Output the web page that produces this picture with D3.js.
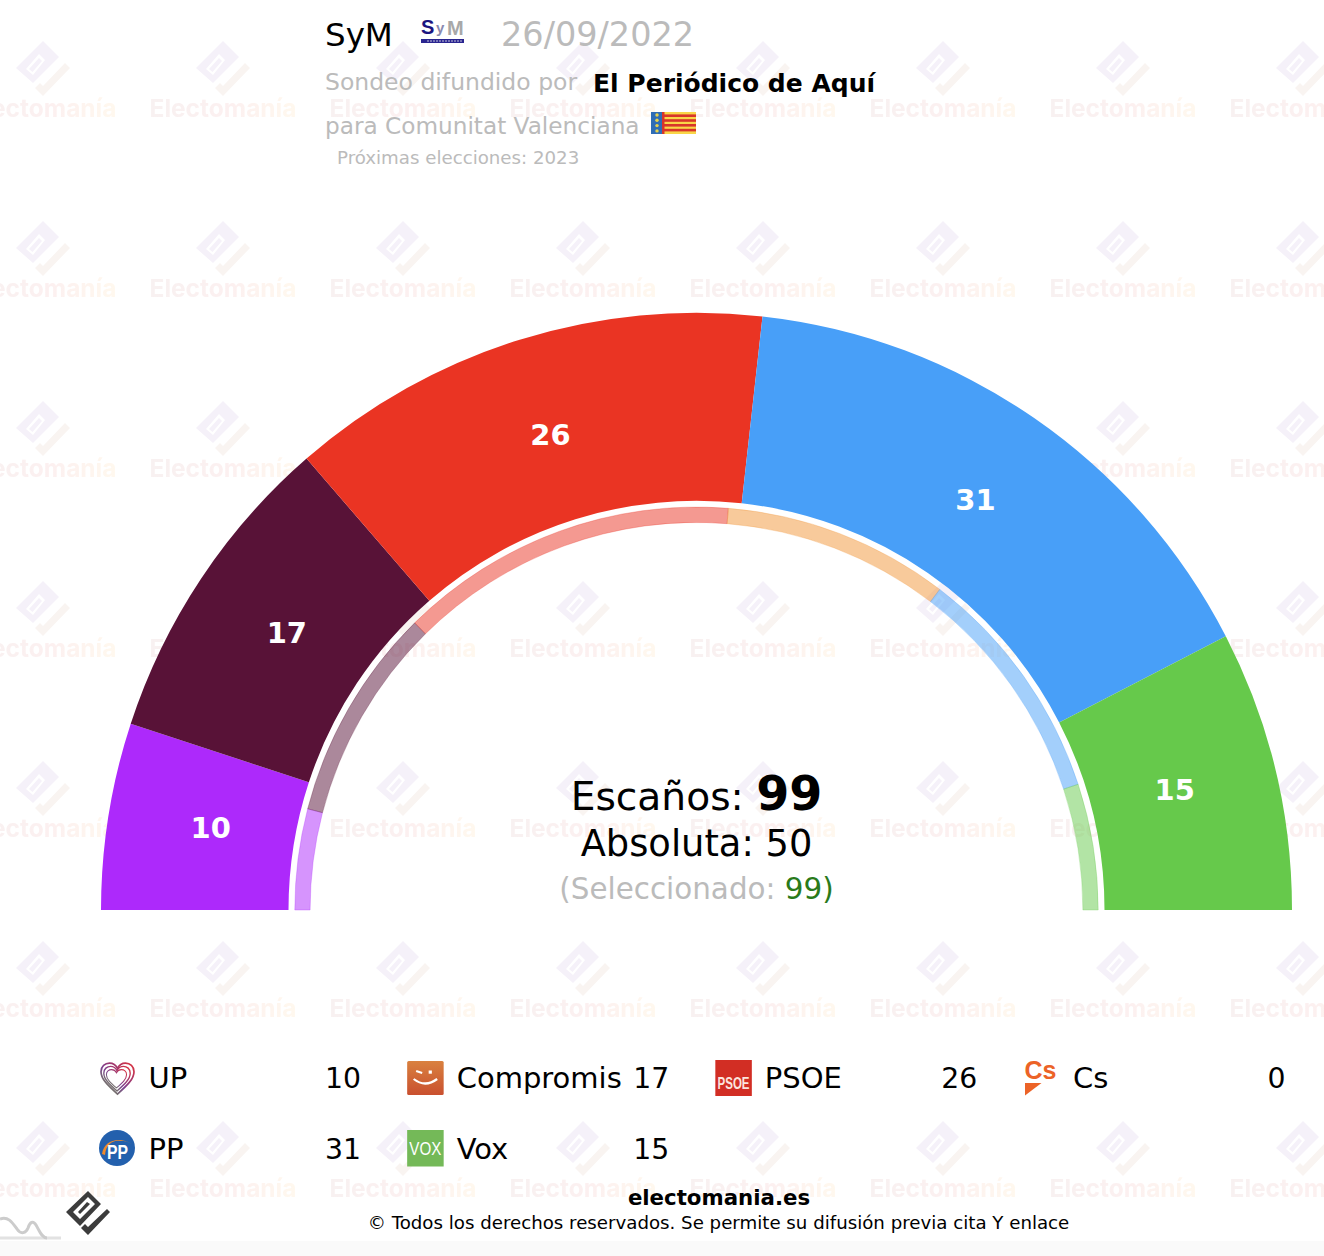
<!DOCTYPE html>
<html lang="es">
<head>
<meta charset="UTF-8">
<title>SyM 26/09/2022</title>
<script src="https://d3js.org/d3.v7.min.js"></script>
<style>
    html, body { margin: 0; padding: 0; background: #fff; }
    svg { display: block; }
    text { font-family: "DejaVu Sans", Verdana, sans-serif; }
</style>
</head>
<body>
<svg id="chart" width="1324" height="1256"></svg>
<script>
const parties = ["UP", "Compromis", "PSOE", "Cs", "PP", "Vox"];
const seats = [10, 17, 26, 0, 31, 15];
const prevSeats = [8, 17, 27, 18, 19, 10];
const colors = ["#ad29fb", "#581237", "#ea3423", "#f19537", "#489ff8", "#66c94b"];
const majority = 50;

const width = 1324, height = 1256;
const cx = 696.5, cy = 910;
const svg = d3.select("#chart");
const defs = svg.append("defs");

// watermark tile
const grad = defs.append("linearGradient").attr("id", "wmText");
grad.append("stop").attr("offset", "0").attr("stop-color", "#f8f1f1");
grad.append("stop").attr("offset", "0.55").attr("stop-color", "#fcf0f0");
grad.append("stop").attr("offset", "1").attr("stop-color", "#fff8ee");
const tile = defs.append("pattern").attr("id", "wm")
    .attr("patternUnits", "userSpaceOnUse")
    .attr("x", -47).attr("y", 0).attr("width", 180).attr("height", 180);
tile.append("path").attr("fill", "#f5f1f9").attr("fill-rule", "evenodd")
    .attr("d", "M90,41 L106,57 L80,83 L63,68 Z M73,69 L86,54 L92,60 L80,75 Z");
tile.append("path").attr("fill", "#f5f1f9")
    .attr("d", "M76,69 L86,58 L89,61 L79.5,72 Z");
tile.append("path").attr("fill", "#f9f4f1")
    .attr("d", "M112,63 L117,68 L90,96 L82,88 L87,83 L90,86 Z");
tile.append("text").attr("x", 90).attr("y", 117).attr("text-anchor", "middle")
    .attr("font-size", 24.5).attr("font-weight", "bold").attr("fill", "url(#wmText)")
    .style("font-family", "Inter, sans-serif").text("Electomanía");

svg.append("rect").attr("width", width).attr("height", height).attr("fill", "#fff");
svg.append("rect").attr("width", width).attr("height", height).attr("fill", "url(#wm)");
svg.append("rect").attr("y", 1241).attr("width", width).attr("height", 15).attr("fill", "#fafafa");

// header
const head = svg.append("g");
head.append("text").attr("x", 325).attr("y", 45.5).attr("font-size", 32.5).attr("fill", "#000").text("SyM");
head.append("text").attr("x", 501).attr("y", 45.5).attr("font-size", 33.5).attr("fill", "#bbb").text("26/09/2022");
head.append("text").attr("x", 325).attr("y", 90).attr("font-size", 23.5).attr("fill", "#bbb").text("Sondeo difundido por");
head.append("text").attr("x", 593).attr("y", 92).attr("font-size", 25).attr("font-weight", "bold").attr("fill", "#000").text("El Periódico de Aquí");
head.append("text").attr("x", 325).attr("y", 134).attr("font-size", 23.2).attr("fill", "#bbb").text("para Comunitat Valenciana");
head.append("text").attr("x", 337).attr("y", 163.5).attr("font-size", 18.2).attr("fill", "#bbb").text("Próximas elecciones: 2023");

// SyM logo
const sym = head.append("g").attr("transform", "translate(421,0)");
sym.append("text").attr("x", 0).attr("y", 33.5).attr("font-size", 20).attr("font-weight", "bold").attr("fill", "#1b1580").style("font-family", "Liberation Sans").text("S");
sym.append("text").attr("x", 15).attr("y", 33).attr("font-size", 15).attr("font-weight", "bold").attr("fill", "#8a8ab0").style("font-family", "Liberation Sans").text("y");
sym.append("text").attr("x", 26).attr("y", 35).attr("font-size", 20).attr("font-weight", "bold").attr("fill", "#a8a8a8").style("font-family", "Liberation Sans").text("M");
sym.append("rect").attr("x", 0).attr("y", 39).attr("width", 43).attr("height", 4).attr("fill", "#2a2590");
sym.append("line").attr("x1", 6).attr("x2", 42).attr("y1", 41).attr("y2", 41)
    .attr("stroke", "#c5c5dc").attr("stroke-width", 1).attr("stroke-dasharray", "2 1");

// Valencian flag
const flag = head.append("g").attr("transform", "translate(651,112)");
flag.append("rect").attr("width", 45).attr("height", 22).attr("fill", "#f9d648");
flag.selectAll("rect.bar").data(d3.range(4)).join("rect").attr("class", "bar")
    .attr("x", 0).attr("y", d => 2.4 + d * 4.8).attr("width", 45).attr("height", 2.6).attr("fill", "#d8352a");
flag.append("rect").attr("width", 11).attr("height", 22).attr("fill", "#2f6db5");
flag.append("rect").attr("x", 11).attr("width", 2.5).attr("height", 22).attr("fill", "#d8352a");
flag.selectAll("circle").data(d3.range(4)).join("circle")
    .attr("cx", 6).attr("cy", d => 3 + d * 5.3).attr("r", 1.7).attr("fill", "#e9d24a");

// semicircle: same angle scale for both rings
const total = d3.sum(seats);
const pie = d3.pie().sort(null).startAngle(-Math.PI / 2).endAngle(Math.PI / 2);
const chart = svg.append("g").attr("transform", `translate(${cx},${cy}) scale(1,1.003)`);
const mainArc = d3.arc().innerRadius(408).outerRadius(595.5);
const prevArc = d3.arc().innerRadius(386.4).outerRadius(401.7);
const labelArc = d3.arc().innerRadius(492).outerRadius(492);

chart.selectAll("path.prev").data(pie(prevSeats)).join("path").attr("class", "prev")
    .attr("d", prevArc).attr("fill", (d, i) => colors[i]).attr("fill-opacity", 0.5)
    .attr("stroke", (d, i) => colors[i]).attr("stroke-opacity", 0.35).attr("stroke-width", 0.8);

const slices = pie(seats);
chart.selectAll("path.main").data(slices).join("path").attr("class", "main")
    .attr("d", mainArc).attr("fill", (d, i) => colors[i]);

chart.selectAll("text.lab").data(slices.filter(d => d.data > 0)).join("text").attr("class", "lab")
    .attr("transform", d => `translate(${labelArc.centroid(d)})`)
    .attr("text-anchor", "middle").attr("dy", "0.22em")
    .attr("font-size", 29).attr("font-weight", "bold").attr("fill", "#fff")
    .text(d => d.data);

// centre text
const esc = svg.append("text").attr("x", cx).attr("y", 810).attr("text-anchor", "middle").attr("font-size", 39.2).attr("fill", "#000");
esc.append("tspan").text("Escaños: ");
esc.append("tspan").attr("font-weight", "bold").attr("font-size", 47.5).text(total);
svg.append("text").attr("x", cx).attr("y", 856).attr("text-anchor", "middle").attr("font-size", 36.8).attr("fill", "#000").text("Absoluta: " + majority);
const sel = svg.append("text").attr("x", cx).attr("y", 899).attr("text-anchor", "middle").attr("font-size", 29.4).attr("fill", "#bbb");
sel.append("tspan").text("(Seleccionado: ");
sel.append("tspan").attr("fill", "#2a7a1a").text(total + ")");

// legend
const colX = d3.scalePoint().domain([0, 1, 2, 3]).range([99, 1023.5]);
const rowY = d3.scalePoint().domain([0, 1]).range([1078, 1149]);
const legend = svg.selectAll("g.leg").data(parties).join("g").attr("class", "leg")
    .attr("transform", (d, i) => `translate(${colX(i % 4)},${rowY(Math.floor(i / 4))})`);
legend.append("text").attr("x", 49.5).attr("y", 10).attr("font-size", 29).attr("fill", "#000").text(d => d);
legend.append("text").attr("x", 262).attr("y", 10).attr("text-anchor", "end").attr("font-size", 28.3).attr("fill", "#000").text((d, i) => seats[i]);

const icons = {
    UP(g) {
        const lg = defs.append("linearGradient").attr("id", "upGrad").attr("x1", 0).attr("y1", 1).attr("x2", 1).attr("y2", 0);
        lg.append("stop").attr("offset", 0).attr("stop-color", "#6fa84a");
        lg.append("stop").attr("offset", 0.45).attr("stop-color", "#7b3f8f");
        lg.append("stop").attr("offset", 1).attr("stop-color", "#e0303a");
        const heart = "M17.5,30 C8,22 1,16 1,9 C1,4 5,1 9.5,1 C13,1 16,3 17.5,6 C19,3 22,1 25.5,1 C30,1 34,4 34,9 C34,16 27,22 17.5,30 Z";
        [[1, -16, 1, 1.07], [4, -12.5, 0.8, 0.85], [6.8, -9, 0.61, 0.63]].forEach(([x, y, sx, sy]) => {
            g.append("path").attr("transform", `translate(${x},${y}) scale(${sx},${sy})`).attr("d", heart)
                .attr("fill", "none").attr("stroke", "url(#upGrad)").attr("stroke-width", 1.7);
        });
    },
    Compromis(g) {
        const lg = defs.append("linearGradient").attr("id", "compGrad").attr("x2", 0).attr("y2", 1);
        lg.append("stop").attr("offset", 0).attr("stop-color", "#d9813f");
        lg.append("stop").attr("offset", 1).attr("stop-color", "#c9502f");
        g.append("rect").attr("y", -17).attr("width", 36.5).attr("height", 34).attr("rx", 1.5).attr("fill", "url(#compGrad)");
        g.append("path").attr("d", "M6.5,1 Q18,10 30,1").attr("fill", "none").attr("stroke", "#fff").attr("stroke-width", 2.2);
        g.append("path").attr("d", "M9,-7 L15,-5").attr("stroke", "#fff").attr("stroke-width", 2);
        g.append("rect").attr("x", 21.5).attr("y", -7.5).attr("width", 3.2).attr("height", 3.2).attr("fill", "#fff");
    },
    PSOE(g) {
        g.append("rect").attr("y", -18).attr("width", 36.5).attr("height", 36).attr("fill", "#d22e24");
        g.append("text").attr("x", 18.2).attr("y", 10.5).attr("text-anchor", "middle").attr("font-size", 17).attr("font-weight", "bold")
            .attr("textLength", 32).attr("lengthAdjust", "spacingAndGlyphs").attr("fill", "#fbe4de").style("font-family", "Liberation Sans").text("PSOE");
    },
    Cs(g) {
        g.append("text").attr("x", 1).attr("y", 1).attr("font-size", 25).attr("font-weight", "bold").attr("fill", "#ec6327").style("font-family", "Liberation Sans").text("Cs");
        g.append("path").attr("d", "M1.5,5 L18,5 L1.5,17.5 Z").attr("fill", "#ec6327");
    },
    PP(g) {
        g.append("ellipse").attr("cx", 18).attr("cy", -1).attr("rx", 18).attr("ry", 18).attr("fill", "#2360ad");
        g.append("path").attr("d", "M3,5 C5,-9 20,-13 33,-5 C27,-9 21,-8 21,-8 C13,-9 7,-4 6,6 Z").attr("fill", "#ef8a2a");
        g.append("text").attr("x", 18.5).attr("y", 10).attr("text-anchor", "middle").attr("font-size", 20).attr("font-weight", "bold")
            .attr("textLength", 21).attr("lengthAdjust", "spacingAndGlyphs").attr("fill", "#fff").style("font-family", "Liberation Sans").text("PP");
    },
    Vox(g) {
        g.append("rect").attr("y", -19).attr("width", 36.5).attr("height", 36.5).attr("fill", "#74b958");
        g.append("text").attr("x", 18.2).attr("y", 6).attr("text-anchor", "middle").attr("font-size", 19)
            .attr("textLength", 32).attr("lengthAdjust", "spacingAndGlyphs").attr("fill", "#fff").style("font-family", "Liberation Sans").text("VOX");
    }
};
legend.each(function (d) { icons[d](d3.select(this).append("g")); });

// footer
svg.append("text").attr("x", 719).attr("y", 1205).attr("text-anchor", "middle").attr("font-size", 21.3).attr("font-weight", "bold").attr("fill", "#000").text("electomania.es");
svg.append("text").attr("x", 718.5).attr("y", 1229).attr("text-anchor", "middle").attr("font-size", 18.2).attr("fill", "#000").text("© Todos los derechos reservados. Se permite su difusión previa cita Y enlace");

// logo bottom left
const logo = svg.append("g");
logo.append("path").attr("fill", "none").attr("stroke", "#e2e2e2").attr("stroke-width", 3)
    .attr("d", "M0,1238 L61,1238");
logo.append("path").attr("fill", "none").attr("stroke", "#cccccc").attr("stroke-width", 3)
    .attr("d", "M0,1219 C8,1216 12,1222 17,1229 C21,1235 26,1233 28,1228 C30,1222 33,1220 36,1225 C40,1232 42,1238 47,1238");
logo.append("path").attr("fill", "#3c3c3c").attr("fill-rule", "evenodd")
    .attr("d", "M88,1191 L101,1204 L80,1226 L66,1212 Z M88,1197 L73,1212 L80,1219 L95,1204 Z M87,1202 L78,1212 L80,1214 L90,1204 Z");
logo.append("path").attr("fill", "#3c3c3c")
    .attr("d", "M107,1209 L110,1212 L88,1235 L81,1228 L85,1224 L88,1227 Z");
</script>
</body>
</html>
